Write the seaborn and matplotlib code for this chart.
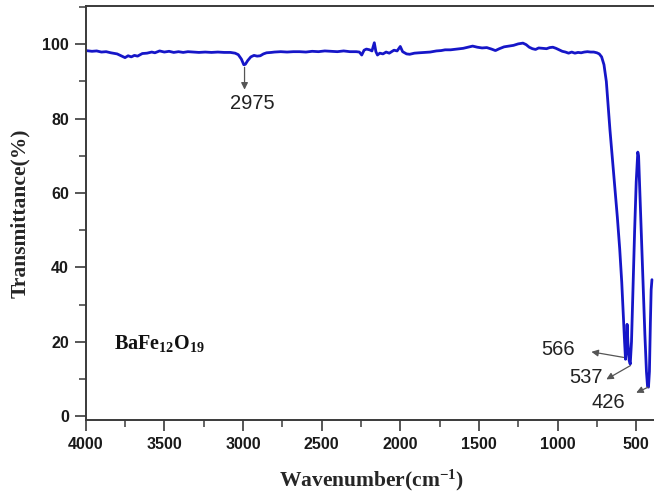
import matplotlib
matplotlib.use("Agg")
import matplotlib.pyplot as plt
from matplotlib.ticker import MultipleLocator
import seaborn as sns
import pandas as pd

# FTIR spectrum of barium hexaferrite
wavenumber = [
    4000, 3960, 3930, 3900, 3870, 3840, 3800, 3770, 3750, 3730, 3710, 3690, 3670,
    3640, 3610, 3580, 3560, 3530, 3500, 3470, 3440, 3410, 3380, 3350, 3320, 3280,
    3240, 3200, 3160, 3120, 3080, 3050, 3030, 3010, 2995, 2985, 2970, 2950, 2930,
    2910, 2890, 2870, 2850, 2820, 2800, 2760, 2720, 2680, 2640, 2600, 2560, 2520,
    2480, 2440, 2400, 2360, 2320, 2280, 2260, 2245, 2230, 2215, 2195, 2180, 2165,
    2155, 2145, 2130, 2110, 2090, 2070, 2040, 2020, 2000, 1985, 1960, 1940, 1910,
    1880, 1850, 1810, 1770, 1740, 1715, 1680, 1640, 1600, 1570, 1540, 1510, 1480,
    1450, 1420, 1395, 1370, 1340, 1310, 1280, 1250, 1220, 1200, 1180, 1160, 1140,
    1120, 1095, 1070, 1050, 1030, 1010, 990, 970, 950, 930, 910, 890, 870, 850,
    830, 810, 790, 770, 750, 735, 720, 705, 690, 680, 667, 650, 635, 620, 605,
    592, 582, 574, 568, 562, 558, 553, 545, 538, 530, 520, 510, 500, 490, 485,
    475, 465, 455, 445, 435, 428, 422, 416, 410, 405, 400,
]
transmittance = [
    98.3, 98.1, 98.2, 97.9, 98.0, 97.7, 97.4, 96.8, 96.4, 96.9, 96.6, 97.0, 96.8,
    97.5, 97.6, 97.9, 97.7, 98.2, 97.9, 98.1, 97.8, 98.0, 97.8, 98.0, 97.9, 97.8,
    97.9, 97.8, 97.9, 97.8, 97.8, 97.6, 97.2, 96.0, 94.5, 94.6, 95.6, 96.6, 97.0,
    96.8, 96.9, 97.4, 97.7, 97.8, 97.9, 98.0, 97.9, 98.0, 98.0, 97.9, 98.1, 98.0,
    98.2, 98.1, 98.0, 98.2, 98.0, 98.0, 97.9, 97.1, 98.4, 98.7, 98.5, 98.2, 100.4,
    98.0, 97.1, 97.6, 97.4, 97.9, 97.6, 98.4, 98.2, 99.4, 98.0, 97.4, 97.3, 97.6,
    97.7, 97.8, 97.9, 98.2, 98.3, 98.5, 98.5, 98.7, 98.9, 99.2, 99.5, 99.2, 99.0,
    99.1, 98.7, 98.3, 98.8, 99.3, 99.5, 99.7, 100.1, 100.3, 99.9, 99.2, 98.8, 98.6,
    99.0, 98.9, 98.8, 99.1, 99.2, 98.9, 98.5, 98.1, 97.9, 97.6, 97.9, 97.6, 97.8, 97.7,
    97.9, 98.0, 97.9, 97.9, 97.7, 97.4, 96.6, 94.5, 90.0, 84.5, 77.0, 68.5, 61.0, 53.5, 45.0,
    36.0, 27.0, 20.0, 15.3, 18.0, 24.7, 20.0, 15.0, 14.0, 20.0, 35.0, 50.0, 63.0, 71.0, 70.0,
    58.0, 46.0, 34.0, 22.0, 12.0, 8.0, 7.8, 12.0, 25.0, 34.0, 36.7,
]

peak_labels = ["2975", "566", "537", "426"]

df = pd.DataFrame({"wavenumber": wavenumber, "transmittance": transmittance})

sns.set_theme(style="ticks")
plt.rcParams["font.family"] = ["Liberation Sans", "DejaVu Sans"]
plt.rcParams["mathtext.fontset"] = "custom"
plt.rcParams["mathtext.rm"] = "Liberation Serif:bold"
plt.rcParams["mathtext.it"] = "Liberation Serif:bold:italic"
plt.rcParams["mathtext.bf"] = "Liberation Serif:bold"

fig = plt.figure(figsize=(6.54, 4.94), dpi=100)
ax = fig.add_axes([0.131, 0.150, 0.875, 0.838])

sns.lineplot(data=df, x="wavenumber", y="transmittance", ax=ax,
             color="#1616c8", linewidth=2.0, estimator=None)

ax.set_xlim(4000, 362)
ax.set_ylim(-1, 110.3)
ax.xaxis.set_major_locator(MultipleLocator(500))
ax.xaxis.set_minor_locator(MultipleLocator(250))
ax.yaxis.set_major_locator(MultipleLocator(20))
ax.yaxis.set_minor_locator(MultipleLocator(10))
ax.set_yticks([0, 20, 40, 60, 80, 100])

for side in ["top", "right", "bottom", "left"]:
    ax.spines[side].set_visible(True)
    ax.spines[side].set_color("#3a3a3a")
    ax.spines[side].set_linewidth(1.4)

ax.tick_params(which="major", direction="out", length=8, width=1.2,
               color="#3a3a3a", labelsize=11.5, pad=4)
ax.tick_params(which="minor", direction="out", length=5, width=1.1,
               color="#3a3a3a")
for lbl in ax.get_xticklabels() + ax.get_yticklabels():
    lbl.set_fontweight("bold")
    lbl.set_color("#1a1a1a")

ax.set_xlabel("Wavenumber(cm$^{-1}$)", fontfamily="Liberation Serif",
              fontweight="bold", fontsize=15.5, labelpad=12)
ax.set_ylabel("Transmittance(%)", fontfamily="Liberation Serif",
              fontweight="bold", fontsize=15.5, labelpad=9)

arrow_kw = dict(arrowstyle="-|>", color="#555555", lw=0.9,
                mutation_scale=10, shrinkA=0, shrinkB=0)
text_kw = dict(fontsize=14.5, color="#222222", ha="center", va="center")

# 2975 band: arrow pointing down from the dip to its label
ax.annotate("", xy=(2990, 87.8), xytext=(2990, 93.8), arrowprops=arrow_kw)
ax.text(2940, 84.0, peak_labels[0], **text_kw)

# Fe-O bands near 566, 537 and 426 cm-1
ax.annotate("", xy=(785, 17.3), xytext=(580, 15.8), arrowprops=arrow_kw)
ax.text(1000, 18.0, peak_labels[1], **text_kw)
ax.annotate("", xy=(690, 9.9), xytext=(537, 13.6), arrowprops=arrow_kw)
ax.text(822, 10.3, peak_labels[2], **text_kw)
ax.annotate("", xy=(500, 6.3), xytext=(424, 7.8), arrowprops=arrow_kw)
ax.text(675, 3.6, peak_labels[3], **text_kw)

ax.text(3820, 19.6, "BaFe$_{12}$O$_{19}$", fontfamily="Liberation Serif",
        fontweight="bold", fontsize=14.5, ha="left", va="center", color="#111111")

fig.savefig("out.png", dpi=100)
